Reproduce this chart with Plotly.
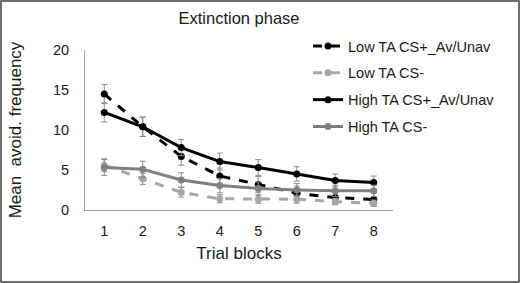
import plotly.graph_objects as go

blocks = ["1", "2", "3", "4", "5", "6", "7", "8"]

low_cs_plus = [14.5, 10.4, 6.7, 4.25, 3.2, 2.1, 1.55, 1.3]
low_cs_plus_err = [1.2, 1.2, 1.1, 1.0, 1.0, 0.9, 0.8, 0.8]

low_cs_minus = [5.6, 3.9, 2.2, 1.4, 1.35, 1.35, 1.05, 0.85]
low_cs_minus_err = [0.8, 0.7, 0.6, 0.5, 0.5, 0.5, 0.4, 0.4]

high_cs_plus = [12.2, 10.4, 7.8, 6.05, 5.3, 4.5, 3.7, 3.45]
high_cs_plus_err = [1.2, 1.2, 1.0, 1.05, 1.0, 0.9, 0.8, 0.8]

high_cs_minus = [5.3, 5.1, 3.75, 3.05, 2.7, 2.5, 2.4, 2.4]
high_cs_minus_err = [1.0, 1.0, 0.9, 0.9, 0.8, 0.8, 0.7, 0.7]

series = [
    ("Low TA CS+_Av/Unav", low_cs_plus, low_cs_plus_err, "#000000", "dash"),
    ("Low TA CS-", low_cs_minus, low_cs_minus_err, "#a6a6a6", "dash"),
    ("High TA CS+_Av/Unav", high_cs_plus, high_cs_plus_err, "#000000", "solid"),
    ("High TA CS-", high_cs_minus, high_cs_minus_err, "#808080", "solid"),
]

FONT = "Liberation Sans, Arial, sans-serif"
FS = 14.5
fig = go.Figure()
for i, (name, vals, errs, col, dash) in enumerate(series):
    fig.add_trace(go.Scatter(
        x=blocks, y=vals, name=name, mode="lines+markers",
        line=dict(color=col, width=3, dash=dash),
        marker=dict(color=col, size=7, symbol="circle"),
        error_y=dict(type="data", array=errs, visible=True,
                     color="#8c8c8c", thickness=1, width=3),
        legendgroup=f"g{i}",
    ))

W, H = 520, 283
L, R, T, B = 85, 127, 50, 73
pw = W - L - R
ph = H - T - B

fig.update_layout(
    width=W, height=H,
    margin=dict(l=L, r=R, t=T, b=B, pad=0, autoexpand=False),
    paper_bgcolor="white", plot_bgcolor="white",
    font=dict(family=FONT, size=FS, color="#1a1a1a"),
    title=dict(text="Extinction phase", x=0.5, xref="paper", xanchor="center",
               y=1 - 18 / H, yanchor="middle",
               font=dict(family=FONT, size=16.5, color="#1a1a1a"), automargin=False),
    showlegend=True,
    legend=dict(x=(308 - L) / pw, y=1 + 20 / ph, xanchor="left", yanchor="top",
                bgcolor="rgba(0,0,0,0)", font=dict(size=FS),
                tracegroupgap=5, itemwidth=30),
    xaxis=dict(range=[-0.5, 7.5], showgrid=False, zeroline=False, showline=True,
               linecolor="#a6a6a6", linewidth=1, ticks="", ticklabelstandoff=8,
               automargin=False,
               title=dict(text="Trial blocks", standoff=8)),
    yaxis=dict(range=[0, 20], dtick=5, showgrid=False, zeroline=False, showline=True,
               linecolor="#a6a6a6", linewidth=1, ticks="", ticklabelstandoff=12,
               automargin=False,
               title=dict(text="Mean  avoid. frequency", standoff=27)),
    shapes=[dict(type="rect", xref="paper", yref="paper",
                 x0=(1 - L) / pw, x1=(W - 1 - L) / pw,
                 y0=-(B - 1) / ph, y1=1 + (T - 1) / ph,
                 line=dict(color="#404040", width=1.5))],
)

fig.write_html("out.html", config={"displayModeBar": False},
               post_script="document.body.style.margin='0';")
